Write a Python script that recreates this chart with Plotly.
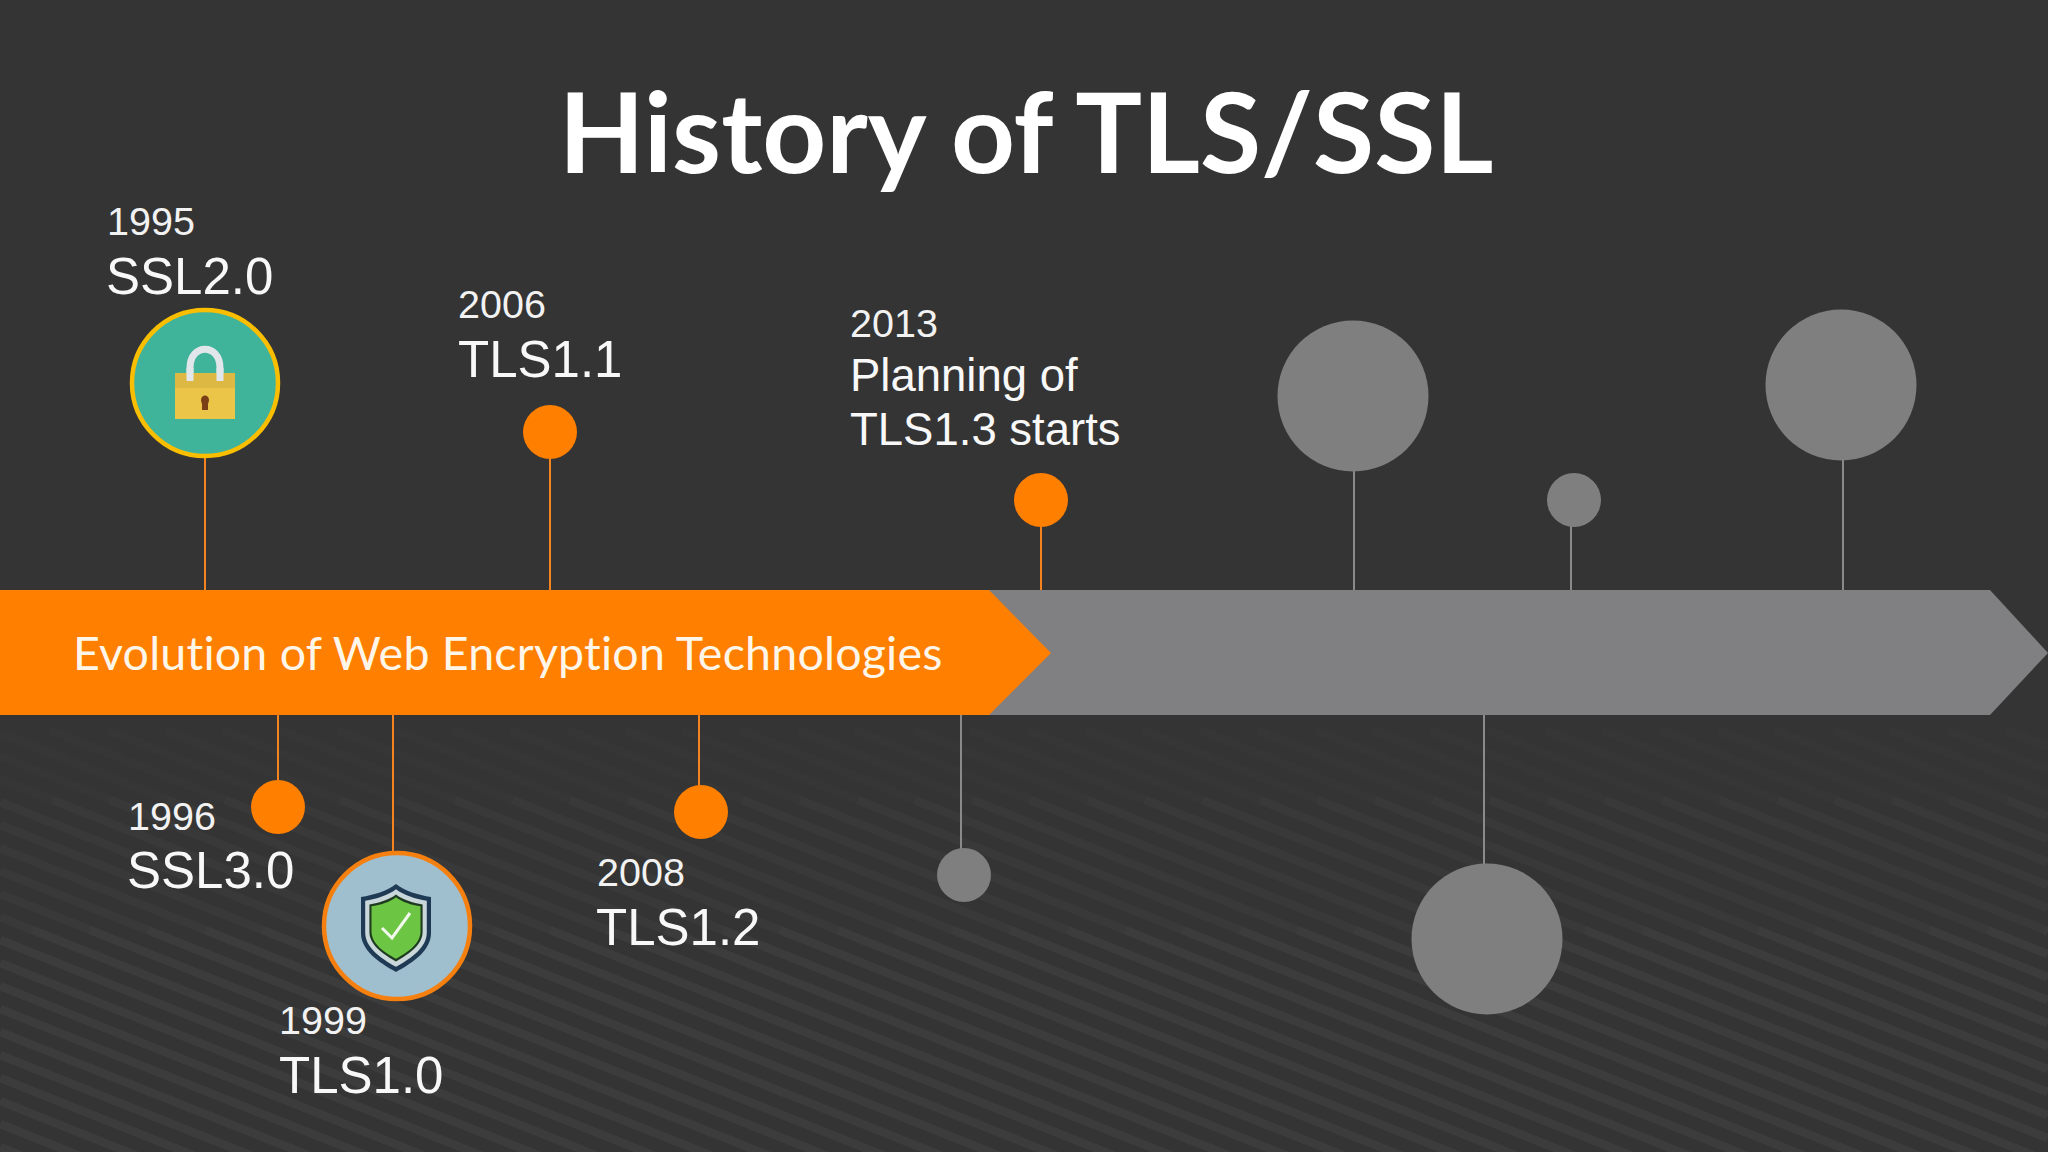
import plotly.graph_objects as go

# ---- timeline content ----
title_text = "History of TLS/SSL"
band_text = "Evolution of Web Encryption Technologies"

year_labels = ["1995", "2006", "2013", "1996", "1999", "2008"]
year_x = [107, 458, 850, 128, 279, 597]
year_y = [225, 308, 327, 820, 1024, 876]

name_labels = ["SSL2.0", "TLS1.1", "SSL3.0", "TLS1.0", "TLS1.2"]
name_x = [106, 458, 127, 279, 596]
name_y = [281, 364, 875, 1080, 932]

plan_labels = ["Planning of", "TLS1.3 starts"]
plan_x = [850, 850]
plan_y = [380, 434]

# filled orange dots
dot_x = [550, 1041, 278, 701]
dot_y = [432, 500, 807, 812]
dot_stem_x = [550, 1041, 278, 699]
dot_stem_end = [590, 590, 715, 715]

# empty grey dots
grey_x = [1353, 1574, 1841, 964, 1487]
grey_y = [396, 500, 385, 875, 939]
grey_size = [151, 54, 151, 54, 151]
grey_stem_x = [1354, 1571, 1843, 961, 1484]
grey_stem_end = [590, 590, 590, 715, 715]

# icon badges
badge_x = [205, 397]
badge_y = [383, 926]
badge_stem_x = [205, 393]
badge_stem_end = [590, 715]
badge_fill = ["#40B39B", "#A0BFCE"]
badge_line = ["#F9BE00", "#F57F0F"]

# arrows
grey_arrow_x = [950, 1990, 2048, 1990, 950]
orange_arrow_x = [0, 989, 1051, 989, 0]
arrow_y = [590, 590, 653, 715, 715]

BG = "#343434"
ORANGE = "#FF7F00"
GREY = "#807F81"
DOT_GREY = "#7F7F7F"

fig = go.Figure()

# stems
for xs, ys, ends, col in [
    (dot_stem_x, dot_y, dot_stem_end, "#F5841F"),
    (badge_stem_x, badge_y, badge_stem_end, "#F5841F"),
    (grey_stem_x, grey_y, grey_stem_end, "#8A8A8A"),
]:
    for x, y, e in zip(xs, ys, ends):
        fig.add_trace(go.Scatter(x=[x, x], y=[y, e], mode="lines",
                                 line=dict(color=col, width=2), hoverinfo="skip"))

# arrows
fig.add_trace(go.Scatter(x=grey_arrow_x, y=arrow_y, mode="lines", fill="toself",
                         fillcolor=GREY, line=dict(color=GREY, width=0), hoverinfo="skip"))
fig.add_trace(go.Scatter(x=orange_arrow_x, y=arrow_y, mode="lines", fill="toself",
                         fillcolor=ORANGE, line=dict(color=ORANGE, width=0), hoverinfo="skip"))

# dots
fig.add_trace(go.Scatter(x=dot_x, y=dot_y, mode="markers",
                         marker=dict(size=54, color=ORANGE, opacity=1, line=dict(width=0)), hoverinfo="skip"))
fig.add_trace(go.Scatter(x=grey_x, y=grey_y, mode="markers",
                         marker=dict(size=grey_size, color=DOT_GREY, opacity=1, line=dict(width=0)), hoverinfo="skip"))
fig.add_trace(go.Scatter(x=badge_x, y=badge_y, mode="markers",
                         marker=dict(size=146, color=badge_fill, opacity=1,
                                     line=dict(width=4.5, color=badge_line)), hoverinfo="skip"))


def text_trace(xs, ys, labels, size, family="Liberation Sans", pos="middle right", weight=None, color="#FFFFFF"):
    fig.add_trace(go.Scatter(x=xs, y=ys, text=labels, mode="text", textposition=pos,
                             textfont=dict(family=family, size=size, color=color,
                                           weight=weight if weight else "normal"),
                             hoverinfo="skip"))


text_trace(year_x, year_y, year_labels, 39.5, color="#F2F2F2")
text_trace(name_x, name_y, name_labels, 51, color="#F8F8F8")
text_trace(plan_x, plan_y, plan_labels, 45.5, color="#F8F8F8")
text_trace([1026], [145], [title_text], 111.5, family="Lato", pos="middle center", weight="bold")
text_trace([73], [658], [band_text], 46.5, family="Lato", color="#FFF6EA")

shapes = []

# background texture: faint diagonal stripes that strengthen toward the bottom
slope = 0.4
for start_y, alpha in [(730, 0.010), (800, 0.014), (930, 0.014)]:
    c = -900
    while c < 1160:
        x0 = max(0, (start_y - c) / slope)
        if x0 < 2048:
            shapes.append(dict(type="line", layer="below", x0=x0, y0=c + slope * x0,
                               x1=2048, y1=c + slope * 2048,
                               line=dict(color=f"rgba(255,255,255,{alpha})", width=9)))
        c += 23


def path(d, fill, line=None, w=0):
    s = dict(type="path", path=d, fillcolor=fill, layer="above",
             line=dict(color=line if line else fill, width=w))
    shapes.append(s)


# padlock icon
path("M 190 381 L 190 368 C 190 343 220 343 220 368 L 220 381", "rgba(0,0,0,0)", "#E0E6EA", 7)
path("M 175 373 L 235 373 L 235 419 L 175 419 Z", "#EAC548")
path("M 175 373 L 235 373 L 235 388 L 175 388 Z", "#DDB944")
path("M 186.5 368 L 193.5 368 L 193.5 381 L 186.5 381 Z", "#E0E6EA")
path("M 216.5 368 L 223.5 368 L 223.5 381 L 216.5 381 Z", "#E0E6EA")
path("M 201 400 C 201 394 209 394 209 400 C 209 402 208 403 208 404 L 208 410 L 202 410 L 202 404 C 202 403 201 402 201 400 Z", "#7A3F17")


# shield icon
def shield(k):
    cx, cy = 396, 928
    def p(x, y):
        return f"{cx + k * x:.1f} {cy + k * y:.1f}"
    return (f"M {p(0, -44)} C {p(-9, -37)} {p(-22, -33)} {p(-35, -31)} "
            f"L {p(-35, 5)} C {p(-35, 22)} {p(-18, 34)} {p(0, 44)} "
            f"C {p(18, 34)} {p(35, 22)} {p(35, 5)} L {p(35, -31)} "
            f"C {p(22, -33)} {p(9, -37)} {p(0, -44)} Z")


path(shield(1.0), "#1F3A55")
path(shield(0.88), "#C9D6DA")
path(shield(0.76), "#1E3B20")
path(shield(0.70), "#6CC644")
path("M 382 928 L 392 938 L 410 913", "rgba(0,0,0,0)", "#F3F8EE", 3)

fig.update_layout(
    width=2048, height=1152, autosize=False,
    margin=dict(l=0, r=0, t=0, b=0, pad=0),
    paper_bgcolor=BG, plot_bgcolor=BG, showlegend=False,
    xaxis=dict(range=[0, 2048], visible=False, fixedrange=True),
    yaxis=dict(range=[1152, 0], visible=False, fixedrange=True),
    shapes=shapes,
)

fig.write_html("out.html", config=dict(displayModeBar=False),
               post_script=("document.body.style.margin='0';document.body.style.background='#343434';"
                            "document.body.style.overflow='hidden';"
                            "document.querySelectorAll('svg text').forEach(function(t){"
                            "if(t.textContent.indexOf('Evolution')===0){t.style.letterSpacing='0.22px';}});"))
